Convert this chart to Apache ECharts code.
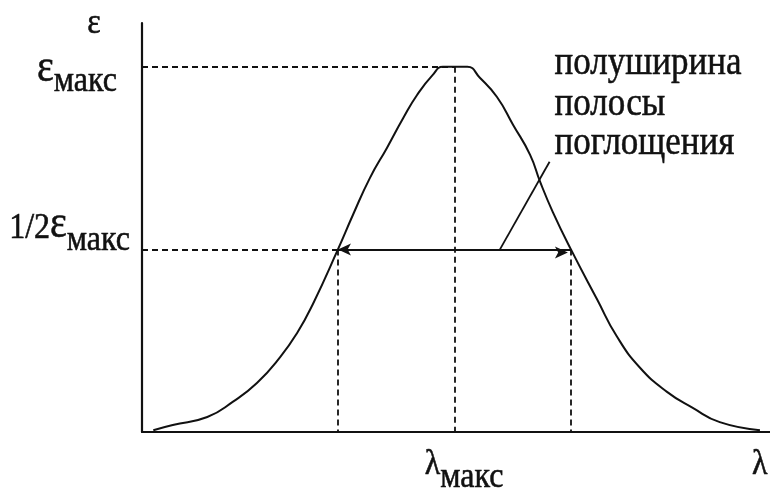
<!DOCTYPE html>
<html>
<head>
<meta charset="utf-8">
<script src="https://cdn.jsdelivr.net/npm/echarts@6/dist/echarts.min.js"></script>
<style>
  html, body { margin: 0; padding: 0; background: #ffffff; }
  #chart { width: 770px; height: 489px; }
</style>
</head>
<body>
<div id="chart"></div>
<script>
// Absorption band ε(λ) in relative units: λ on 0–100, ε as a fraction of εмакс
const bandX = [1.8, 4.9, 10.4, 14.5, 18.3, 22.0, 24.7, 27.2, 31.2, 33.6, 36.3, 39.0, 41.6, 43.8, 46.3, 47.9,
               51.8, 53.8, 56.5, 59.1, 61.8, 63.4, 65.4, 68.3, 72.5, 75.6, 79.3, 83.6, 87.7, 92.0, 98.4];
const bandY = [0.005, 0.019, 0.041, 0.083, 0.134, 0.205, 0.271, 0.350, 0.500, 0.595, 0.696, 0.778, 0.860, 0.923, 0.978, 1.000,
               1.000, 0.970, 0.918, 0.841, 0.759, 0.685, 0.603, 0.500, 0.362, 0.262, 0.176, 0.110, 0.066, 0.027, 0.005];

const peakX = 49.8;        // λмакс
const peakY = 1.0;         // εмакс
const halfY = 0.5;         // 1/2 εмакс
const halfLeftX = 31.2;    // left half-height point
const halfRightX = 68.3;   // right half-height point
const pointerFrom = [57.0, 0.5];   // leader line from the half-width arrow ...
const pointerTo = [64.9, 0.74];    // ... up towards the caption

const noteLines = ['полуширина', 'полосы', 'поглощения'];
const yTitle = 'ε';
const xTitle = 'λ';
const subText = 'макс';

const FONT = '"Liberation Serif", "Times New Roman", serif';
const INK = '#111111';
const STRETCH = 1.15;          // glyphs are drawn a little taller than wide
const BASE_RATIO = 0.8375;     // top of line box -> alphabetic baseline, in em

const chart = echarts.init(document.getElementById('chart'), null, { renderer: 'canvas' });

const dashed = { color: INK, width: 1.8, type: [6, 4] };
const solid = { color: INK, width: 1.8, type: 'solid' };

const axisCommon = {
  type: 'value',
  axisLine: { show: true, onZero: false, lineStyle: { color: INK, width: 2.2 } },
  axisTick: { show: false },
  axisLabel: { show: false },
  splitLine: { show: false }
};

chart.setOption({
  animation: false,
  backgroundColor: '#ffffff',
  grid: { left: 142, right: 0, top: 23, bottom: 57 },
  xAxis: Object.assign({}, axisCommon, { min: 0, max: 100 }),
  yAxis: Object.assign({}, axisCommon, { min: 0, max: 1.12 }),
  series: [
    {
      name: 'band',
      type: 'line',
      data: bandX.map((x, i) => [x, bandY[i]]),
      showSymbol: false,
      smooth: 0.5,
      lineStyle: { color: INK, width: 2 },
      z: 5
    },
    {
      name: 'guides',
      type: 'line',
      data: [],
      markLine: {
        silent: true,
        symbol: ['none', 'none'],
        label: { show: false },
        lineStyle: dashed,
        data: [
          [{ coord: [0, peakY] }, { coord: [peakX, peakY] }],
          [{ coord: [peakX, peakY] }, { coord: [peakX, 0] }],
          [{ coord: [0, halfY] }, { coord: [halfLeftX, halfY] }],
          [{ coord: [halfLeftX, halfY] }, { coord: [halfLeftX, 0] }],
          [{ coord: [halfRightX, halfY] }, { coord: [halfRightX, 0] }]
        ]
      }
    },
    {
      name: 'halfWidth',
      type: 'line',
      data: [],
      markLine: {
        silent: true,
        symbol: ['arrow', 'arrow'],
        symbolSize: [9, 13],
        symbolOffset: [0, 3],
        label: { show: false },
        lineStyle: solid,
        data: [
          [{ coord: [halfLeftX, halfY] }, { coord: [halfRightX, halfY] }]
        ]
      }
    },
    {
      name: 'leader',
      type: 'line',
      data: [],
      markLine: {
        silent: true,
        symbol: ['none', 'none'],
        label: { show: false },
        lineStyle: solid,
        data: [
          [{ coord: pointerFrom }, { coord: pointerTo }]
        ]
      }
    }
  ]
});

// ---- text labels, placed relative to chart coordinates ----
const measure = (() => {
  const ctx = document.createElement('canvas').getContext('2d');
  return (text, size) => { ctx.font = size + 'px ' + FONT; return ctx.measureText(text).width; };
})();

const px = (pt) => chart.convertToPixel({ gridIndex: 0 }, pt);

// text element whose alphabetic baseline sits at `base`
function txt(text, x, base, size, align) {
  return {
    type: 'text',
    x: x,
    y: base - BASE_RATIO * size * STRETCH,
    scaleY: STRETCH,
    silent: true,
    style: {
      text: text, x: 0, y: 0,
      font: size + 'px ' + FONT,
      fill: INK,
      stroke: INK,
      lineWidth: 0.5,
      textAlign: align || 'left',
      textVerticalAlign: 'top'
    }
  };
}

// a run of [text, size, dropBelowBaseline] pieces, laid left to right
function run(pieces, startX, base) {
  const out = [];
  let x = startX;
  pieces.forEach(([t, size, drop]) => {
    out.push(txt(t, x, base + drop, size, 'left'));
    x += measure(t, size);
  });
  return out;
}
function runWidth(pieces) {
  return pieces.reduce((w, [t, size]) => w + measure(t, size), 0);
}

const origin = px([0, 0]);
const axisTop = px([0, 1.12]);
const axisEnd = px([100, 0]);
const peakPx = px([peakX, peakY]);
const halfPx = px([0, halfY]);
const notePx = px(pointerTo);

const epsMax = [['ε', 40, 0], [subText, 32, 9]];
const epsHalf = [['1/2', 32, 0], ['ε', 40, 0], [subText, 32, 12]];
const lamMax = [['λ', 32, 0], [subText, 32, 13]];

const graphics = [];
graphics.push(txt(yTitle, origin[0] - 48, axisTop[1] + 13, 32, 'center'));
graphics.push(...run(epsMax, origin[0] - 25 - runWidth(epsMax), peakPx[1] + 18));
graphics.push(...run(epsHalf, origin[0] - 12 - runWidth(epsHalf), halfPx[1] - 9));
graphics.push(...run(lamMax, peakPx[0] - 30, origin[1] + 45));
graphics.push(txt(xTitle, axisEnd[0] - 18, origin[1] + 45, 32, 'left'));
const noteBase = [-85, -44, -5];
noteLines.forEach((line, i) => {
  graphics.push(txt(line, notePx[0] + 5, notePx[1] + noteBase[i], 35, 'left'));
});

chart.setOption({ graphic: graphics });
</script>
</body>
</html>
